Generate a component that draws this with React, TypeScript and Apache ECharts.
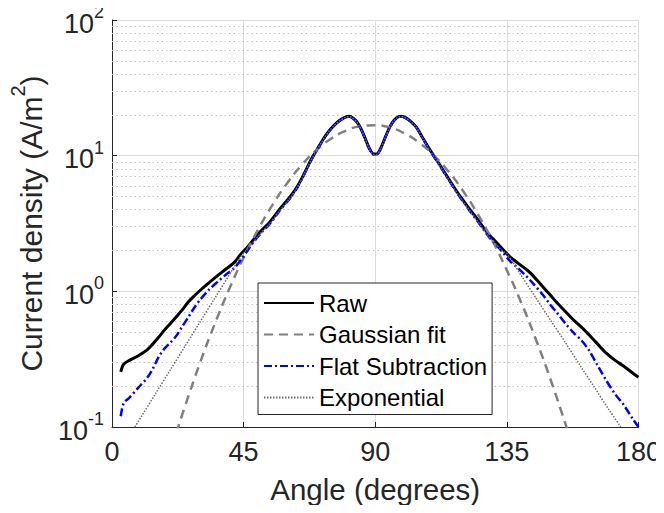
import React, { useEffect, useRef } from "react";
import * as echarts from "echarts";

const FONT = "'Liberation Sans', Arial, Helvetica, sans-serif";

const xTicks = [0, 45, 90, 135, 180];
const minorGrid = [0.2, 0.3, 0.4, 0.5, 0.6, 0.7, 0.8, 0.9, 2, 3, 4, 5, 6, 7, 8, 9, 20, 30, 40, 50, 60, 70, 80, 90];

const rawAngles = [3, 4, 6, 9, 12, 14, 16, 18, 20, 22, 24, 26, 28, 30, 33, 36, 39, 42, 44, 46, 48, 51, 54, 57, 61, 63.5, 66, 68, 70, 72, 74, 76, 78, 80, 81, 82, 83.5, 85, 86.5, 88, 89.5, 90.5, 92, 93.5, 95, 96.5, 98, 99, 100.5, 102, 104, 106, 108, 110, 112, 115, 118, 120, 122, 124.5, 127, 129, 131, 133.5, 136, 139, 142, 144, 147, 150, 152, 155, 158, 160.5, 163, 166, 169, 172, 175, 178, 180];
const rawValues = [0.255, 0.29, 0.31, 0.335, 0.37, 0.41, 0.46, 0.52, 0.58, 0.65, 0.73, 0.83, 0.92, 1.01, 1.15, 1.3, 1.46, 1.65, 1.88, 2.08, 2.35, 2.8, 3.25, 3.95, 5.0, 6.0, 7.6, 9.3, 11.0, 13.0, 15.0, 16.8, 18.3, 19.3, 19.5, 19.2, 18.0, 16.0, 13.5, 11.3, 10.3, 10.3, 11.5, 13.8, 16.3, 18.3, 19.4, 19.5, 19.0, 18.0, 16.3, 13.8, 11.7, 10.0, 8.6, 6.8, 5.4, 4.7, 4.1, 3.5, 2.95, 2.6, 2.35, 2.05, 1.8, 1.6, 1.43, 1.3, 1.1, 0.93, 0.83, 0.71, 0.61, 0.545, 0.48, 0.41, 0.35, 0.31, 0.28, 0.25, 0.233];

const gaussAngles = [22, 25, 30, 35, 40, 45, 50, 55, 60, 65, 70, 75, 80, 85, 90, 95, 100, 105, 110, 115, 120, 125, 130, 135, 140, 145, 150, 155, 157];
const gaussValues = [0.091, 0.143, 0.293, 0.566, 1.03, 1.77, 2.87, 4.38, 6.32, 8.6, 11.04, 13.37, 15.29, 16.49, 16.78, 16.11, 14.6, 12.48, 10.06, 7.66, 5.5, 3.72, 2.38, 1.43, 0.817, 0.438, 0.222, 0.106, 0.078];

const flatAngles = rawAngles;
const flatValues = [0.12, 0.15, 0.165, 0.195, 0.23, 0.27, 0.33, 0.38, 0.42, 0.47, 0.55, 0.64, 0.75, 0.86, 1.02, 1.17, 1.33, 1.5, 1.7, 1.95, 2.25, 2.7, 3.15, 3.85, 4.9, 5.9, 7.5, 9.2, 10.9, 12.9, 14.9, 16.7, 18.2, 19.2, 19.4, 19.1, 17.9, 15.9, 13.4, 11.2, 10.2, 10.2, 11.4, 13.7, 16.2, 18.2, 19.3, 19.4, 18.9, 17.9, 16.2, 13.7, 11.6, 9.9, 8.5, 6.7, 5.3, 4.6, 4.0, 3.4, 2.85, 2.5, 2.25, 1.95, 1.68, 1.47, 1.27, 1.14, 0.96, 0.79, 0.7, 0.58, 0.49, 0.435, 0.37, 0.285, 0.22, 0.175, 0.145, 0.115, 0.1];

const expAngles = [7.8, 10, 15, 20, 25, 30, 35, 40, 44, 46, 48, 51, 54, 57, 61, 63.5, 66, 68, 70, 72, 74, 76, 78, 80, 81, 82, 83.5, 85, 86.5, 88, 89.5, 90.5, 92, 93.5, 95, 96.5, 98, 99, 100.5, 102, 104, 106, 108, 110, 112, 115, 118, 120, 122, 124.5, 127, 129, 131, 133.5, 135, 140, 145, 150, 155, 160, 165, 170, 174];
const expValues = [0.1, 0.119, 0.178, 0.265, 0.395, 0.59, 0.88, 1.31, 1.8, 2.02, 2.25, 2.7, 3.15, 3.85, 4.9, 5.9, 7.5, 9.2, 10.9, 12.9, 14.9, 16.7, 18.2, 19.2, 19.4, 19.1, 17.9, 15.9, 13.4, 11.2, 10.2, 10.2, 11.4, 13.7, 16.2, 18.2, 19.3, 19.4, 18.9, 17.9, 16.2, 13.7, 11.6, 9.9, 8.5, 6.7, 5.3, 4.6, 4.0, 3.4, 2.85, 2.5, 2.25, 1.98, 1.9, 1.3, 0.89, 0.61, 0.42, 0.285, 0.195, 0.133, 0.1];

const seriesNames = ["Raw", "Gaussian fit", "Flat Subtraction", "Exponential"];

const zip = (xs: number[], ys: number[]) => xs.map((x, i) => [x, ys[i]]);

export default function App() {
  const ref = useRef<HTMLDivElement>(null);
  useEffect(() => {
    if (!ref.current) return;
    const chart = echarts.init(ref.current, undefined, { renderer: "svg" });
    const textColor = "#262626";
    chart.setOption({
      animation: false,
      textStyle: { fontFamily: FONT },
      grid: { left: 108, right: 23, top: 20, bottom: 86 },
      legend: {
        orient: "vertical",
        left: 258,
        top: 283,
        padding: [8, 5, 5, 5],
        itemGap: 7.5,
        itemWidth: 50,
        itemHeight: 14,
        borderColor: "#262626",
        borderWidth: 1,
        borderRadius: 0,
        backgroundColor: "#ffffff",
        itemStyle: { opacity: 0 },
        textStyle: { fontFamily: FONT, fontSize: 24, color: "#000", lineHeight: 23 },
        data: seriesNames,
      },
      xAxis: {
        type: "value",
        min: xTicks[0],
        max: xTicks[xTicks.length - 1],
        interval: 45,
        name: "Angle (degrees)",
        nameLocation: "middle",
        nameGap: 47,
        nameTextStyle: { fontFamily: FONT, fontSize: 29.5, color: textColor },
        axisLine: { show: true, lineStyle: { color: textColor, width: 1 } },
        axisTick: { show: true, inside: true, length: 5, lineStyle: { color: textColor } },
        axisLabel: { fontFamily: FONT, fontSize: 27, color: textColor, margin: 11 },
        splitLine: { show: true, lineStyle: { color: "#dcdcdc", width: 1 } },
      },
      yAxis: {
        type: "log",
        logBase: 10,
        min: 0.1,
        max: 100,
        name: "{n|Current density (A/m}{s|2}{n|)}",
        nameLocation: "middle",
        nameRotate: 90,
        nameGap: 66,
        nameTextStyle: {
          fontFamily: FONT,
          fontSize: 30,
          color: textColor,
          rich: {
            n: { fontFamily: FONT, fontSize: 30, color: textColor, lineHeight: 38, verticalAlign: "bottom" },
            s: { fontFamily: FONT, fontSize: 20, color: textColor, lineHeight: 22, verticalAlign: "top" },
          },
        },
        axisLine: { show: true, lineStyle: { color: textColor, width: 1 } },
        axisTick: { show: true, inside: true, length: 5, lineStyle: { color: textColor } },
        axisLabel: {
          margin: 8,
          formatter: (v: number) => `{a|10}{b|${Math.round(Math.log10(v))}}`,
          rich: {
            a: { fontFamily: FONT, fontSize: 27, color: textColor, lineHeight: 34, verticalAlign: "bottom" },
            b: { fontFamily: FONT, fontSize: 18, color: textColor, lineHeight: 20, verticalAlign: "top" },
          },
        },
        splitLine: { show: true, lineStyle: { color: "#dcdcdc", width: 1 } },
      },
      series: [
        {
          name: seriesNames[0],
          type: "line",
          data: zip(rawAngles, rawValues),
          symbol: "none",
          smooth: 0.3,
          lineStyle: { color: "#000000", width: 3, type: "solid" },
          itemStyle: { color: "#000000" },
          z: 3,
          markLine: {
            silent: true,
            symbol: "none",
            z: 1,
            label: { show: false },
            lineStyle: { color: "#c4c4c4", width: 1, type: [1.5, 3] },
            data: minorGrid.map((v) => ({ yAxis: v })),
          },
        },
        {
          name: seriesNames[1],
          type: "line",
          data: zip(gaussAngles, gaussValues),
          symbol: "none",
          smooth: true,
          lineStyle: { color: "#808080", width: 2.5, type: [9, 6] },
          itemStyle: { color: "#808080" },
          z: 4,
        },
        {
          name: seriesNames[2],
          type: "line",
          data: zip(flatAngles, flatValues),
          symbol: "none",
          smooth: 0.3,
          lineStyle: { color: "#0000ff", width: 2.5, type: [8, 3, 2, 3] },
          itemStyle: { color: "#0000ff" },
          z: 5,
        },
        {
          name: seriesNames[3],
          type: "line",
          data: zip(expAngles, expValues),
          symbol: "none",
          smooth: 0.3,
          lineStyle: { color: "#6e6e6e", width: 1.5, type: [1.5, 1.5] },
          itemStyle: { color: "#6e6e6e" },
          z: 6,
        },
      ],
    });
    return () => chart.dispose();
  }, []);
  return <div ref={ref} style={{ width: 664, height: 513, margin: -8 }} />;
}
